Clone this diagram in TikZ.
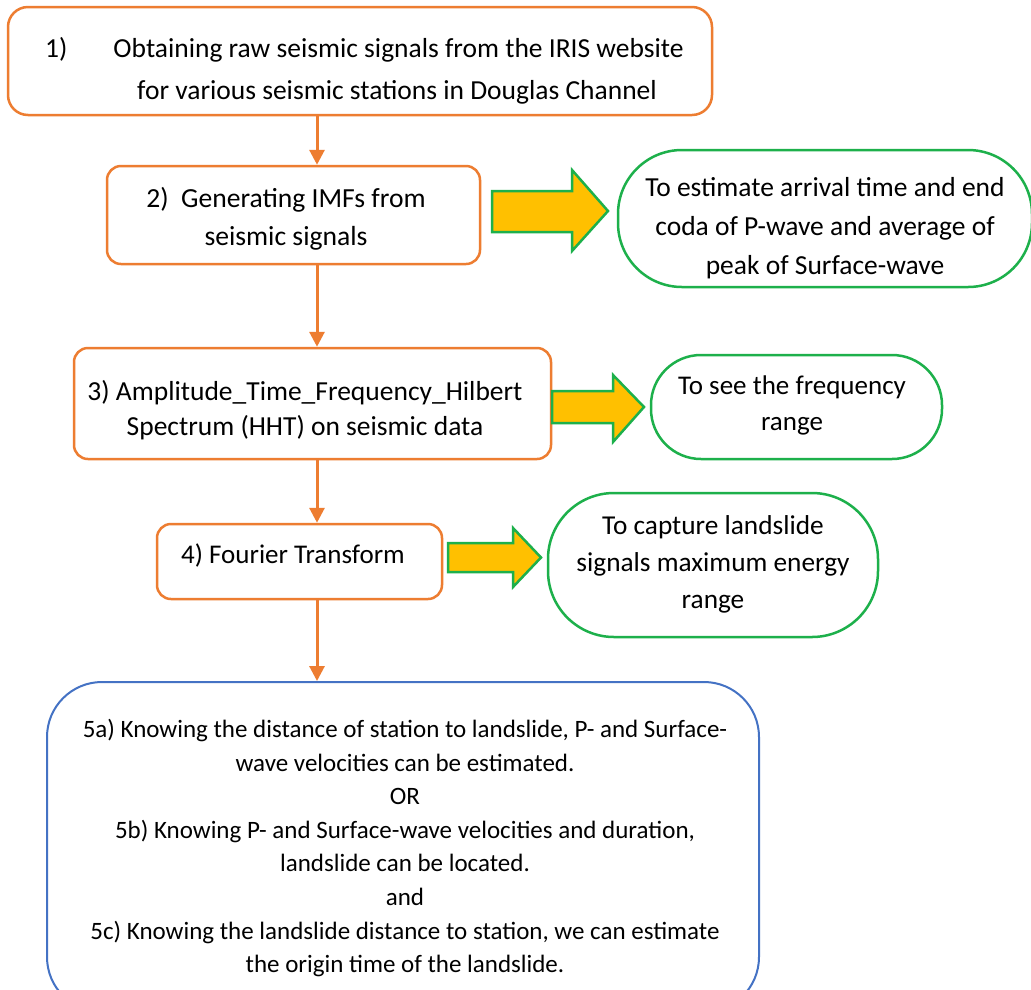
\documentclass[tikz,border=0pt]{standalone}
\usepackage{fontspec}
\setmainfont{Carlito}
\usetikzlibrary{arrows.meta}
\definecolor{orng}{HTML}{ED7D31}
\definecolor{grn}{HTML}{1DB04B}
\definecolor{gold}{HTML}{FFC000}
\definecolor{blu}{HTML}{4472C4}
\begin{document}
\begin{tikzpicture}[x=1pt,y=-1pt,
  obox/.style={draw=orng,line width=2.5pt,rounded corners=14pt,fill=white,inner sep=0pt},
  gbox/.style={draw=grn,line width=2.5pt,fill=white,inner sep=0pt},
  bbox/.style={draw=blu,line width=2pt,rounded corners=55pt,fill=white,inner sep=0pt},
  txt/.style={align=center,inner sep=0pt},
  flow/.style={draw=orng,line width=3pt,-{Triangle[length=15pt,width=15pt]}},
  barrow/.style={draw=grn,line width=2.5pt,fill=gold,line join=miter}]
\useasboundingbox (0,0) rectangle (1031,989);
\fill[white] (0,0) rectangle (1031,989);
\clip (0,0) rectangle (1031,989);
% boxes
\node[obox,rounded corners=20pt,minimum width=704pt,minimum height=108pt] (b1) at (360,61) {};
\node[obox,minimum width=373pt,minimum height=98pt] (b2) at (293.5,215) {};
\node[obox,minimum width=477pt,minimum height=111pt] (b3) at (312.5,403.5) {};
\node[obox,minimum width=285pt,minimum height=75pt] (b4) at (299.5,561.5) {};
\node[bbox,minimum width=712pt,minimum height=330pt] (b5) at (403,847) {};
\node[gbox,rounded corners=64pt,minimum width=414pt,minimum height=137pt] (g1) at (825,218.5) {};
\node[gbox,rounded corners=50pt,minimum width=291pt,minimum height=104pt] (g2) at (796.5,407) {};
\node[gbox,rounded corners=66pt,minimum width=330pt,minimum height=144pt] (g3) at (713,565) {};
% texts
\node[align=left,inner sep=0pt,anchor=west,font=\fontsize{27.5}{42}\selectfont] (t1) at (45,71)
  {1)\hspace{46pt}Obtaining raw seismic signals from the IRIS website\\\hspace*{92pt}for various seismic stations in Douglas Channel};
\node[txt,font=\fontsize{27.6}{38}\selectfont] (t2) at (286,219) {2)\ \ Generating IMFs from\\seismic signals};
\node[txt,font=\fontsize{27.5}{35}\selectfont] (t3) at (305,410) {3) Amplitude\_Time\_Frequency\_Hilbert\\Spectrum (HHT) on seismic data};
\node[txt,font=\fontsize{27}{36}\selectfont] (t4) at (293,555) {4) Fourier Transform};
\node[txt,font=\fontsize{27.5}{39}\selectfont] (tg1) at (825,228) {To estimate arrival time and end\\coda of P-wave and average of\\peak of Surface-wave};
\node[txt,font=\fontsize{27}{36}\selectfont] (tg2) at (792,405) {To see the frequency\\range};
\node[txt,font=\fontsize{27.3}{37}\selectfont] (tg3) at (713,564) {To capture landslide\\signals maximum energy\\range};
\node[txt,font=\fontsize{25}{33.6}\selectfont] (t5) at (405,848) {5a) Knowing the distance of station to landslide, P- and Surface-\\wave velocities can be estimated.\\OR\\5b) Knowing P- and Surface-wave velocities and duration,\\landslide can be located.\\and\\5c) Knowing the landslide distance to station, we can estimate\\the origin time of the landslide.};
% vertical flow arrows
\coordinate (ax) at (317,0);
\draw[flow] (b1.south -| ax) -- (b2.north -| ax);
\draw[flow] (b2.south -| ax) -- (b3.north -| ax);
\draw[flow] (b3.south -| ax) -- (b4.north -| ax);
\draw[flow] (b4.south -| ax) -- (b5.north -| ax);
% block arrows
\draw[barrow] (492,191) -- (572,191) -- (572,170) -- (608,211) -- (572,251) -- (572,232) -- (492,232) -- cycle;
\draw[barrow] (552,391) -- (613,391) -- (613,375) -- (644,407) -- (613,442) -- (613,423) -- (552,423) -- cycle;
\draw[barrow] (448,543) -- (513,543) -- (513,528) -- (541,557.5) -- (513,587) -- (513,572) -- (448,572) -- cycle;
\end{tikzpicture}
\end{document}
